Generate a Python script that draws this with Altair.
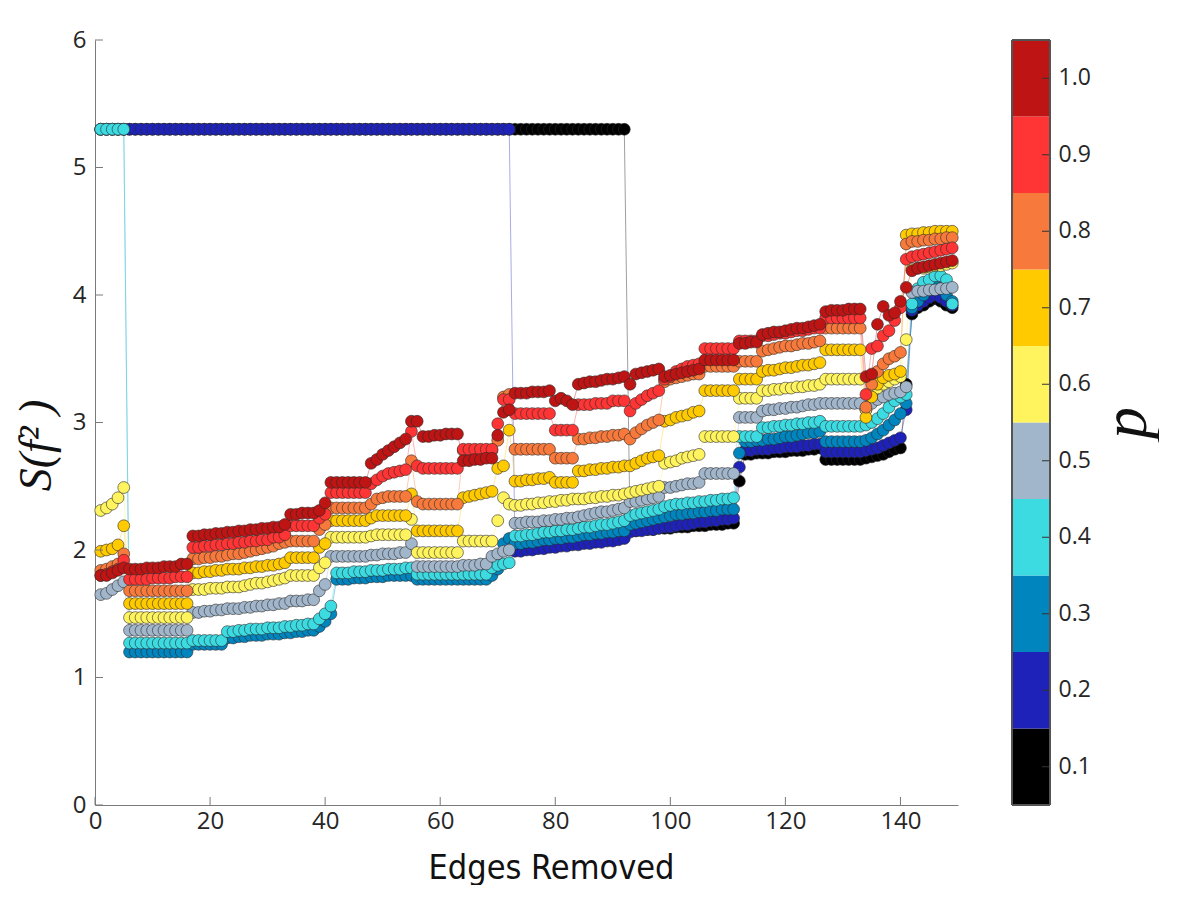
import altair as alt
import pandas as pd

# p levels and the colour assigned to each one
P_LABELS = ["0.1", "0.2", "0.3", "0.4", "0.5", "0.6", "0.7", "0.8", "0.9", "1.0"]
P_COLORS = ["#000000", "#1E22B8", "#0085BF", "#3CDBE2", "#A2B6CB",
            "#FFF35E", "#FFCA00", "#F77A3C", "#FF3434", "#BE1414"]

# S(f^2) after removing 1..149 edges, one list per p
s_p01 = ([5.30] * 92
         + [2.15, 2.15, 2.16, 2.16, 2.16, 2.17, 2.17, 2.17, 2.18, 2.18, 2.18, 2.19, 2.19, 2.19, 2.20, 2.20, 2.20, 2.21, 2.21]
         + [2.54]
         + [2.75, 2.75, 2.76, 2.76, 2.76, 2.77, 2.77, 2.77, 2.78, 2.78, 2.78, 2.79, 2.79, 2.80]
         + [2.71] * 7
         + [2.72, 2.73, 2.74, 2.75, 2.77, 2.79, 2.80, 3.30]
         + [3.85, 3.90, 3.92, 3.95, 3.97, 3.95, 3.92, 3.90])

s_p02 = ([5.30] * 72
         + [1.99, 1.99, 2.00, 2.00, 2.01, 2.01, 2.02, 2.02, 2.03, 2.03, 2.04, 2.04, 2.05, 2.05, 2.06, 2.06, 2.07, 2.07, 2.08, 2.09]
         + [2.14, 2.15, 2.15, 2.16, 2.16, 2.17, 2.18, 2.18, 2.19, 2.20, 2.20, 2.21, 2.22, 2.22, 2.23, 2.23, 2.24, 2.24, 2.25]
         + [2.65]
         + [2.78, 2.78, 2.79, 2.79, 2.79, 2.80, 2.80, 2.81, 2.81, 2.81, 2.82, 2.82, 2.83, 2.83]
         + [2.77] * 7
         + [2.78, 2.79, 2.80, 2.82, 2.84, 2.86, 2.88, 3.10]
         + [3.88, 3.92, 3.95, 3.98, 4.00, 3.98, 3.95, 3.92])

s_p03 = ([5.30] * 5
         + [1.20] * 11
         + [1.26] * 6
         + [1.31, 1.31, 1.32, 1.32, 1.33, 1.33, 1.33, 1.34, 1.34, 1.34, 1.35, 1.35, 1.36, 1.36, 1.37, 1.37]
         + [1.40, 1.44, 1.50]
         + [1.77, 1.77, 1.77, 1.78, 1.78, 1.78, 1.79, 1.79, 1.79, 1.80, 1.80, 1.80, 1.80, 1.80]
         + [1.77] * 13
         + [1.80, 1.85, 2.05, 2.09]
         + [2.05, 2.05, 2.06, 2.06, 2.07, 2.08, 2.08, 2.09, 2.09, 2.10, 2.10, 2.11, 2.12, 2.12, 2.13, 2.13, 2.14, 2.14, 2.15, 2.15]
         + [2.20, 2.21, 2.22, 2.23, 2.24, 2.25, 2.26, 2.27]
         + [2.28, 2.28, 2.29, 2.29, 2.30, 2.30, 2.31, 2.31, 2.32, 2.32, 2.32]
         + [2.76, 2.85, 2.85, 2.86]
         + [2.86, 2.87, 2.87, 2.88, 2.89, 2.89, 2.90, 2.91, 2.92, 2.92, 2.93]
         + [2.85] * 7
         + [2.86, 2.88, 2.91, 2.94, 2.98, 3.02, 3.07, 3.15]
         + [3.90, 3.95, 4.00, 4.05, 4.08, 4.05, 4.00, 3.95])

s_p04 = ([5.30] * 5
         + [1.27] * 11
         + [1.29] * 6
         + [1.36, 1.36, 1.37, 1.37, 1.38, 1.38, 1.38, 1.39, 1.39, 1.39, 1.40, 1.40, 1.41, 1.41, 1.42, 1.42]
         + [1.46, 1.50, 1.56]
         + [1.82, 1.82, 1.82, 1.83, 1.83, 1.83, 1.84, 1.84, 1.84, 1.85, 1.85, 1.85, 1.86, 1.86]
         + [1.81] * 13
         + [1.86, 1.88, 1.89, 1.90]
         + [2.11, 2.11, 2.12, 2.12, 2.13, 2.14, 2.14, 2.15, 2.15, 2.16, 2.16, 2.17, 2.18, 2.18, 2.19, 2.20, 2.20, 2.21, 2.22, 2.23]
         + [2.27, 2.28, 2.29, 2.30, 2.31, 2.32, 2.34, 2.35]
         + [2.36, 2.36, 2.37, 2.37, 2.38, 2.38, 2.39, 2.39, 2.40, 2.40, 2.41]
         + [2.89] * 4
         + [2.96, 2.96, 2.97, 2.97, 2.98, 2.98, 2.99, 2.99, 3.00, 3.00, 3.01]
         + [2.97] * 7
         + [2.98, 3.00, 3.03, 3.07, 3.12, 3.17, 3.20, 3.22]
         + [3.93, 4.05, 4.10, 4.12, 4.15, 4.15, 4.12, 3.93])

s_p05 = ([1.65, 1.66, 1.69, 1.72, 1.75]
         + [1.37] * 11
         + [1.51, 1.51, 1.52, 1.52, 1.53, 1.53, 1.54, 1.54]
         + [1.54, 1.55, 1.55, 1.56, 1.56, 1.57, 1.57, 1.58, 1.58]
         + [1.60, 1.60, 1.60, 1.61, 1.61]
         + [1.68, 1.73]
         + [1.95] * 7
         + [1.96, 1.96, 1.97, 1.97, 1.97, 1.98, 1.98]
         + [2.05, 1.87]
         + [1.87] * 7
         + [1.88, 1.88, 1.88, 1.89, 1.89, 1.95]
         + [1.97, 1.99, 2.00]
         + [2.21, 2.21, 2.22, 2.22, 2.22, 2.23, 2.23]
         + [2.24, 2.24, 2.25, 2.25]
         + [2.26, 2.27, 2.28, 2.29, 2.30, 2.30, 2.31, 2.32, 2.33]
         + [2.38]
         + [2.38, 2.39, 2.40, 2.41, 2.42]
         + [2.49, 2.49, 2.50, 2.51, 2.52, 2.52, 2.53]
         + [2.60] * 6
         + [3.04] * 4
         + [3.09, 3.10, 3.10, 3.11, 3.11, 3.12, 3.12, 3.13, 3.14, 3.14, 3.15]
         + [3.15] * 7
         + [3.10, 3.15, 3.18, 3.20, 3.22, 3.23, 3.24, 3.28]
         + [4.02, 4.03, 4.03, 4.04, 4.04, 4.05, 4.05, 4.06])

s_p06 = ([2.31, 2.33, 2.36, 2.41, 2.49]
         + [1.47] * 11
         + [1.69, 1.69, 1.69, 1.70, 1.70, 1.70, 1.71, 1.71]
         + [1.71, 1.72, 1.73, 1.74, 1.74, 1.75, 1.76, 1.77, 1.78]
         + [1.80] * 5
         + [1.86, 1.90]
         + [2.10] * 7
         + [2.11, 2.12, 2.12, 2.12, 2.12, 2.12, 2.12]
         + [2.24, 1.98]
         + [1.98] * 7
         + [2.07] * 6
         + [2.23, 2.41, 2.36]
         + [2.35, 2.35, 2.36, 2.36, 2.37, 2.37, 2.38]
         + [2.38, 2.39, 2.39, 2.40]
         + [2.40, 2.40, 2.41, 2.41, 2.42, 2.42, 2.43, 2.43, 2.44]
         + [2.45]
         + [2.46, 2.47, 2.48, 2.49, 2.50]
         + [2.68, 2.69, 2.70, 2.72, 2.73, 2.74, 2.75]
         + [2.89] * 6
         + [3.19] * 4
         + [3.25, 3.25, 3.26, 3.26, 3.27, 3.27, 3.28, 3.28, 3.29, 3.29, 3.30]
         + [3.34] * 7
         + [3.10, 3.22, 3.27, 3.30, 3.32, 3.34, 3.36, 3.65]
         + [4.20, 4.21, 4.21, 4.22, 4.23, 4.23, 4.24, 4.25])

s_p07 = ([1.99, 2.00, 2.01, 2.04, 2.19]
         + [1.58] * 11
         + [1.82, 1.82, 1.83, 1.83, 1.84, 1.84, 1.85, 1.85]
         + [1.85, 1.86, 1.86, 1.87, 1.87, 1.88, 1.88, 1.89, 1.90]
         + [1.94] * 5
         + [2.02, 2.05]
         + [2.23] * 7
         + [2.25, 2.27, 2.27, 2.27, 2.27, 2.27, 2.27]
         + [2.44, 2.15]
         + [2.15] * 7
         + [2.41, 2.42, 2.43, 2.44, 2.45, 2.46]
         + [2.64, 2.66, 2.94]
         + [2.54, 2.54, 2.55, 2.55, 2.56, 2.56, 2.57]
         + [2.53] * 4
         + [2.62, 2.62, 2.63, 2.63, 2.64, 2.64, 2.65, 2.65, 2.66]
         + [2.66]
         + [2.68, 2.70, 2.72, 2.73, 2.74]
         + [3.01, 3.02, 3.04, 3.05, 3.06, 3.08, 3.09]
         + [3.25] * 6
         + [3.34] * 4
         + [3.40, 3.41, 3.41, 3.42, 3.43, 3.43, 3.44, 3.45, 3.45, 3.46, 3.47]
         + [3.57] * 7
         + [3.04, 3.20, 3.30, 3.35, 3.37, 3.38, 3.40, 4.47]
         + [4.48, 4.48, 4.49, 4.49, 4.50, 4.50, 4.50, 4.50])

s_p08 = ([1.84, 1.85, 1.87, 1.89, 1.97]
         + [1.68] * 11
         + [1.93, 1.93, 1.94, 1.94, 1.95, 1.95, 1.96, 1.97]
         + [1.97, 1.98, 1.99, 2.00, 2.01, 2.02, 2.03, 2.05, 2.06]
         + [2.07] * 5
         + [2.16, 2.20]
         + [2.33] * 7
         + [2.36, 2.40, 2.41, 2.42, 2.42, 2.42, 2.42]
         + [2.70, 2.38]
         + [2.36] * 7
         + [2.78] * 6
         + [2.86, 3.20, 3.22]
         + [2.79] * 7
         + [2.72] * 4
         + [2.87, 2.87, 2.88, 2.88, 2.89, 2.89, 2.90, 2.90, 2.91]
         + [2.87]
         + [2.92, 2.95, 2.98, 3.00, 3.02]
         + [3.32, 3.34, 3.35, 3.36, 3.37, 3.38, 3.38]
         + [3.44] * 6
         + [3.48] * 4
         + [3.56, 3.57, 3.58, 3.59, 3.60, 3.60, 3.61, 3.62, 3.62, 3.63, 3.64]
         + [3.74] * 7
         + [3.12, 3.30, 3.40, 3.46, 3.50, 3.52, 3.55, 4.40]
         + [4.42, 4.42, 4.43, 4.43, 4.44, 4.44, 4.45, 4.45])

s_p09 = ([1.80, 1.81, 1.83, 1.85, 1.92]
         + [1.77] * 4 + [1.78] * 4 + [1.79] * 3
         + [2.02, 2.02, 2.03, 2.03, 2.04, 2.04, 2.05, 2.05]
         + [2.06, 2.06, 2.07, 2.07, 2.08, 2.08, 2.10, 2.10, 2.12]
         + [2.19] * 5
         + [2.25, 2.28]
         + [2.45] * 7
         + [2.52, 2.55, 2.58, 2.60, 2.61, 2.62, 2.63]
         + [2.93, 2.66]
         + [2.64] * 7
         + [2.79] * 6
         + [2.99, 3.18, 3.18]
         + [3.07] * 7
         + [2.94] * 4
         + [3.14, 3.14, 3.14, 3.15, 3.15, 3.15, 3.17, 3.17, 3.17]
         + [3.09]
         + [3.15, 3.18, 3.21, 3.23, 3.25]
         + [3.34, 3.36, 3.40, 3.42, 3.44, 3.45, 3.46]
         + [3.58] * 6
         + [3.64] * 4
         + [3.68, 3.68, 3.69, 3.70, 3.70, 3.71, 3.72, 3.72, 3.73, 3.74, 3.74]
         + [3.82] * 7
         + [3.22, 3.58, 3.60, 3.68, 3.72, 3.80, 3.90, 4.28]
         + [4.30, 4.31, 4.32, 4.33, 4.34, 4.35, 4.36, 4.37])

s_p10 = ([1.80, 1.80, 1.82, 1.84, 1.86]
         + [1.85] * 3 + [1.86] * 3 + [1.87] * 3 + [1.89] * 2
         + [2.11, 2.11, 2.12, 2.12, 2.13, 2.13, 2.14, 2.14]
         + [2.15, 2.15, 2.16, 2.16, 2.17, 2.17, 2.18, 2.18, 2.20]
         + [2.28, 2.28, 2.29, 2.29, 2.29]
         + [2.31, 2.37]
         + [2.53] * 7
         + [2.68, 2.71, 2.75, 2.78, 2.81, 2.84, 2.87]
         + [3.01, 3.01]
         + [2.89, 2.89, 2.90, 2.90, 2.91, 2.91, 2.91]
         + [2.70, 2.70, 2.71, 2.71, 2.72, 2.72]
         + [2.90, 3.08, 3.10]
         + [3.23, 3.23, 3.23, 3.24, 3.24, 3.24, 3.25]
         + [3.17, 3.19, 3.17, 3.14]
         + [3.30, 3.31, 3.32, 3.32, 3.33, 3.34, 3.34, 3.35, 3.36]
         + [3.30]
         + [3.38, 3.39, 3.40, 3.41, 3.42]
         + [3.36, 3.37, 3.38, 3.39, 3.40, 3.41, 3.42]
         + [3.49] * 6
         + [3.62, 3.62, 3.63, 3.63]
         + [3.69, 3.70, 3.71, 3.71, 3.72, 3.73, 3.74, 3.74, 3.75, 3.76, 3.77]
         + [3.87, 3.88, 3.88, 3.88, 3.89, 3.89, 3.89]
         + [3.36, 3.38, 3.77, 3.91, 3.84, 3.86, 3.95, 4.06]
         + [4.19, 4.21, 4.22, 4.23, 4.24, 4.25, 4.26, 4.27])

SERIES = [s_p01, s_p02, s_p03, s_p04, s_p05, s_p06, s_p07, s_p08, s_p09, s_p10]

X_TICKS = [0, 20, 40, 60, 80, 100, 120, 140]
Y_TICKS = [0, 1, 2, 3, 4, 5, 6]

rows = []
for k, (label, ys) in enumerate(zip(P_LABELS, SERIES)):
    for i, v in enumerate(ys, start=1):
        rows.append({"edges": i, "S": v, "p": label, "draw": k * 1000 + i})
df = pd.DataFrame(rows)

W, H = 863, 765
FONT = "Open Sans"
AXIS_GRAY = "#7a7a7a"
LABEL_COLOR = "#262626"

color = alt.Color("p:N", scale=alt.Scale(domain=P_LABELS, range=P_COLORS), legend=None)
x_enc = alt.X("edges:Q", scale=alt.Scale(domain=[0, 150], nice=False, zero=False),
              axis=alt.Axis(values=X_TICKS, format="d", ticks=False, grid=False,
                            domainColor=AXIS_GRAY, labelColor=LABEL_COLOR, labelFont=FONT,
                            labelFontSize=24, labelPadding=4, labelFlush=False,
                            title="Edges Removed",
                            titleFont="Liberation Sans Narrow, DejaVu Sans Condensed, sans-serif",
                            titleFontSize=34, titleFontWeight="normal", titleColor="#111111",
                            titlePadding=18, titleX=456))
y_enc = alt.Y("S:Q", scale=alt.Scale(domain=[0, 6], nice=False),
              axis=alt.Axis(values=Y_TICKS, format="d", ticks=False, grid=False,
                            domainColor=AXIS_GRAY, labelColor=LABEL_COLOR, labelFont=FONT,
                            labelFontSize=24, labelPadding=9, labelFlush=False,
                            title="S(f² )", titleFont="Liberation Serif", titleFontStyle="italic",
                            titleFontSize=46, titleFontWeight="normal", titleColor="#111111",
                            titlePadding=12, titleY=405))

base = alt.Chart(df)
lines = base.mark_line(strokeWidth=0.7, opacity=0.55).encode(
    x=x_enc, y=y_enc, color=color, detail="p:N", order="edges:Q")
points = base.mark_circle(size=140, opacity=1, stroke="#2a2a2a", strokeWidth=0.6).encode(
    x="edges:Q", y="S:Q", color=color, order=alt.Order("draw:Q"))

# inward tick marks on both axes
yt = alt.Chart(pd.DataFrame({"v": Y_TICKS})).mark_rule(color=AXIS_GRAY, strokeWidth=1).encode(
    y="v:Q", x=alt.value(0), x2=alt.value(8))
xt = alt.Chart(pd.DataFrame({"v": X_TICKS})).mark_rule(color=AXIS_GRAY, strokeWidth=1).encode(
    x="v:Q", y=alt.value(H), y2=alt.value(H - 8))

main = alt.layer(lines, points, yt, xt).properties(width=W, height=H)

# discrete colour bar for p
cb_df = pd.DataFrame({"p": P_LABELS})
CB_W = 38
cb_y = alt.Y("p:O", sort=list(reversed(P_LABELS)),
             scale=alt.Scale(paddingInner=0, paddingOuter=0),
             axis=alt.Axis(orient="right", domain=False, ticks=False, labelFont=FONT,
                           labelFontSize=23, labelColor=LABEL_COLOR, labelPadding=8,
                           title="p", titleFont="Liberation Serif", titleFontStyle="italic",
                           titleFontSize=64, titleFontWeight="normal", titleColor="#111111",
                           titleAngle=270, titleBaseline="top", titlePadding=4))
cb_rect = alt.Chart(cb_df).mark_rect().encode(
    y=cb_y, x=alt.value(0), x2=alt.value(CB_W), color=color)
cb_ticks = alt.Chart(cb_df).mark_rule(color="#333333", strokeWidth=1).encode(
    y=alt.Y("p:O", sort=list(reversed(P_LABELS)), bandPosition=0.5),
    x=alt.value(CB_W - 8), x2=alt.value(CB_W))
cb_frame = alt.Chart(cb_df).mark_rect(fill=None, stroke="#555555", strokeWidth=1).encode(
    x=alt.value(0), x2=alt.value(CB_W), y=alt.value(0), y2=alt.value(H))
colorbar = alt.layer(cb_rect, cb_ticks, cb_frame).properties(width=CB_W, height=H)

chart = alt.hconcat(main, colorbar, spacing=51).properties(
    padding={"left": 13, "top": 28, "right": 0, "bottom": 0},
    background="white",
).configure_view(stroke=None)

chart.save("out.html", embed_options={"renderer": "svg", "actions": False})
